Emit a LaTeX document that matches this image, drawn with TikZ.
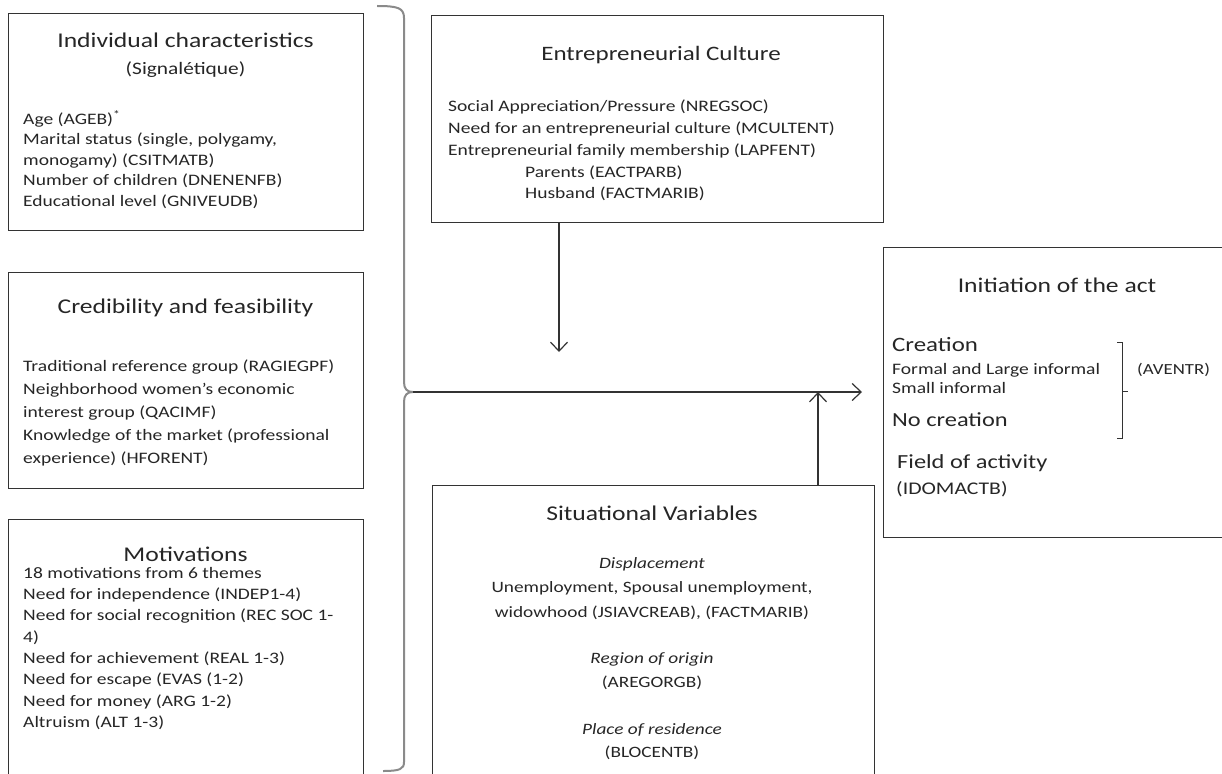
\documentclass[tikz,border=0pt]{standalone}
\usepackage{fontspec}
\setmainfont{Carlito}[FakeStretch=1.22]
\usetikzlibrary{arrows.meta}
\definecolor{ink}{HTML}{333333}
\definecolor{bracegray}{HTML}{8A8A8A}
\begin{document}
\begin{tikzpicture}[x=1pt,y=-1pt,
  box/.style={draw=ink, line width=1.2pt, inner sep=0pt, anchor=north west},
  ttl/.style={font=\fontsize{21}{24}\selectfont, inner sep=0pt, anchor=center, text=black!85},
  body/.style={inner sep=0pt, align=left, anchor=north west, text=black!85},
  cbody/.style={inner sep=0pt, align=center, anchor=north, text=black!85},
  conn/.style={line width=1.2pt, draw=ink},
  tip/.style={-{Straight Barb[length=9pt,width=17pt,line width=1.2pt]}}
]
\useasboundingbox (0,0) rectangle (1222,773);

% boxes
\node[box, minimum width=355pt, minimum height=217pt] (ind) at (8,13) {};
\node[box, minimum width=355pt, minimum height=216pt] (cred) at (8,272) {};
\node[box, minimum width=355pt, minimum height=280pt] (mot) at (8,519) {};
\node[box, minimum width=452pt, minimum height=207pt] (cult) at (431,15) {};
\node[box, minimum width=442pt, minimum height=305pt] (sit) at (432,485) {};
\node[box, minimum width=350pt, minimum height=290pt] (init) at (883,247) {};

% Individual characteristics
\node[ttl] (indT) at (185.5,40) {Individual characteristics};
\node[ttl, font=\fontsize{17.5}{20}\selectfont] (indS) at (185.5,70) {(Signalétique)};
\node[body, font=\fontsize{16}{20.4}\selectfont] (indB) at (23,110) {Age (AGEB)\textsuperscript{*}\\
Marital status (single, polygamy,\\
monogamy) (CSITMATB)\\
Number of children (DNENENFB)\\
Educational level (GNIVEUDB)};

% Credibility
\node[ttl] (credT) at (185.5,308) {Credibility and feasibility};
\node[body, font=\fontsize{16}{23}\selectfont] (credB) at (23,360) {Traditional reference group (RAGIEGPF)\\
Neighborhood women's economic\\
interest group (QACIMF)\\
Knowledge of the market (professional\\
experience) (HFORENT)};

% Motivations
\node[ttl] (motT) at (185.5,554) {Motivations};
\node[body, font=\fontsize{16}{21.3}\selectfont] (motB) at (23,567) {18 motivations from 6 themes\\
Need for independence (INDEP1-4)\\
Need for social recognition (REC SOC 1-\\
4)\\
Need for achievement (REAL 1-3)\\
Need for escape (EVAS (1-2)\\
Need for money (ARG 1-2)\\
Altruism (ALT 1-3)};

% Entrepreneurial culture
\node[ttl, font=\fontsize{20.5}{24}\selectfont] (cultT) at (661,55) {Entrepreneurial Culture};
\node[body, font=\fontsize{16}{21.7}\selectfont] (cultB) at (448,100) {Social Appreciation/Pressure (NREGSOC)\\
Need for an entrepreneurial culture (MCULTENT)\\
Entrepreneurial family membership (LAPFENT)\\
\hspace*{77pt}Parents (EACTPARB)\\
\hspace*{77pt}Husband (FACTMARIB)};

% Situational variables
\node[ttl] (sitT) at (652,513) {Situational Variables};
\node[cbody, font=\fontsize{15.8}{24.5}\selectfont] (sitA) at (652,557) {\textit{Displacement}\\
Unemployment, Spousal unemployment,\\
widowhood (JSIAVCREAB), (FACTMARIB)};
\node[cbody, font=\fontsize{15.8}{24.5}\selectfont] (sitB) at (652,652) {\textit{Region of origin}\\(AREGORGB)};
\node[cbody, font=\fontsize{15.8}{23.5}\selectfont] (sitC) at (652,723) {\textit{Place of residence}\\(BLOCENTB)};

% Initiation of the act
\node[ttl] (initT) at (1057,285) {Initiation of the act};
\node[body, anchor=west, font=\fontsize{20.4}{24}\selectfont] (cre) at (892,345) {Creation};
\node[body, anchor=west, font=\fontsize{16}{18}\selectfont] (fli) at (892,370) {Formal and Large informal};
\node[body, anchor=west, font=\fontsize{16}{18}\selectfont] (smi) at (892,388) {Small informal};
\node[body, anchor=west, font=\fontsize{20}{24}\selectfont] (noc) at (892,420) {No creation};
\node[body, anchor=west, font=\fontsize{15.4}{20}\selectfont] (ave) at (1137,370) {(AVENTR)};
\node[body, anchor=west, font=\fontsize{20}{24}\selectfont] (foa) at (897,463) {Field of activity};
\node[body, anchor=west, font=\fontsize{17.8}{20}\selectfont] (ido) at (896,489) {(IDOMACTB)};

% inner bracket
\coordinate (bt1) at (1117,342);
\coordinate (bt2) at (1122,342);
\coordinate (bb2) at (1122,438);
\coordinate (bb1) at (1117,438);
\coordinate (bm1) at (1122,391);
\coordinate (bm2) at (1128,391);
\draw[line width=1pt, draw=ink] (bt1) -- (bt2) -- (bb2) -- (bb1);
\draw[line width=1pt, draw=ink] (bm1) -- (bm2);

% big brace
\coordinate (brTop) at (377,6);
\coordinate (brTip) at (413,392);
\coordinate (brBot) at (383,771);
\draw[line width=2pt, draw=bracegray]
  (brTop) .. controls (398,6) and (404,8) .. (404,18)
  -- (404,382) .. controls (404,389) and (407,392) .. (brTip)
  .. controls (407,392) and (404,395) .. (404,402)
  -- (404,762) .. controls (404,769) and (400,771) .. (brBot);

% connectors
\coordinate (dEnd) at (559,352);
\coordinate (hEnd) at (862,392);
\coordinate (uEnd) at (818,392);
\draw[conn, tip] (cult.south -| dEnd) -- (dEnd);
\draw[conn, tip] (brTip) -- (hEnd);
\draw[conn, tip] (sit.north -| uEnd) -- (uEnd);
\end{tikzpicture}
\end{document}
